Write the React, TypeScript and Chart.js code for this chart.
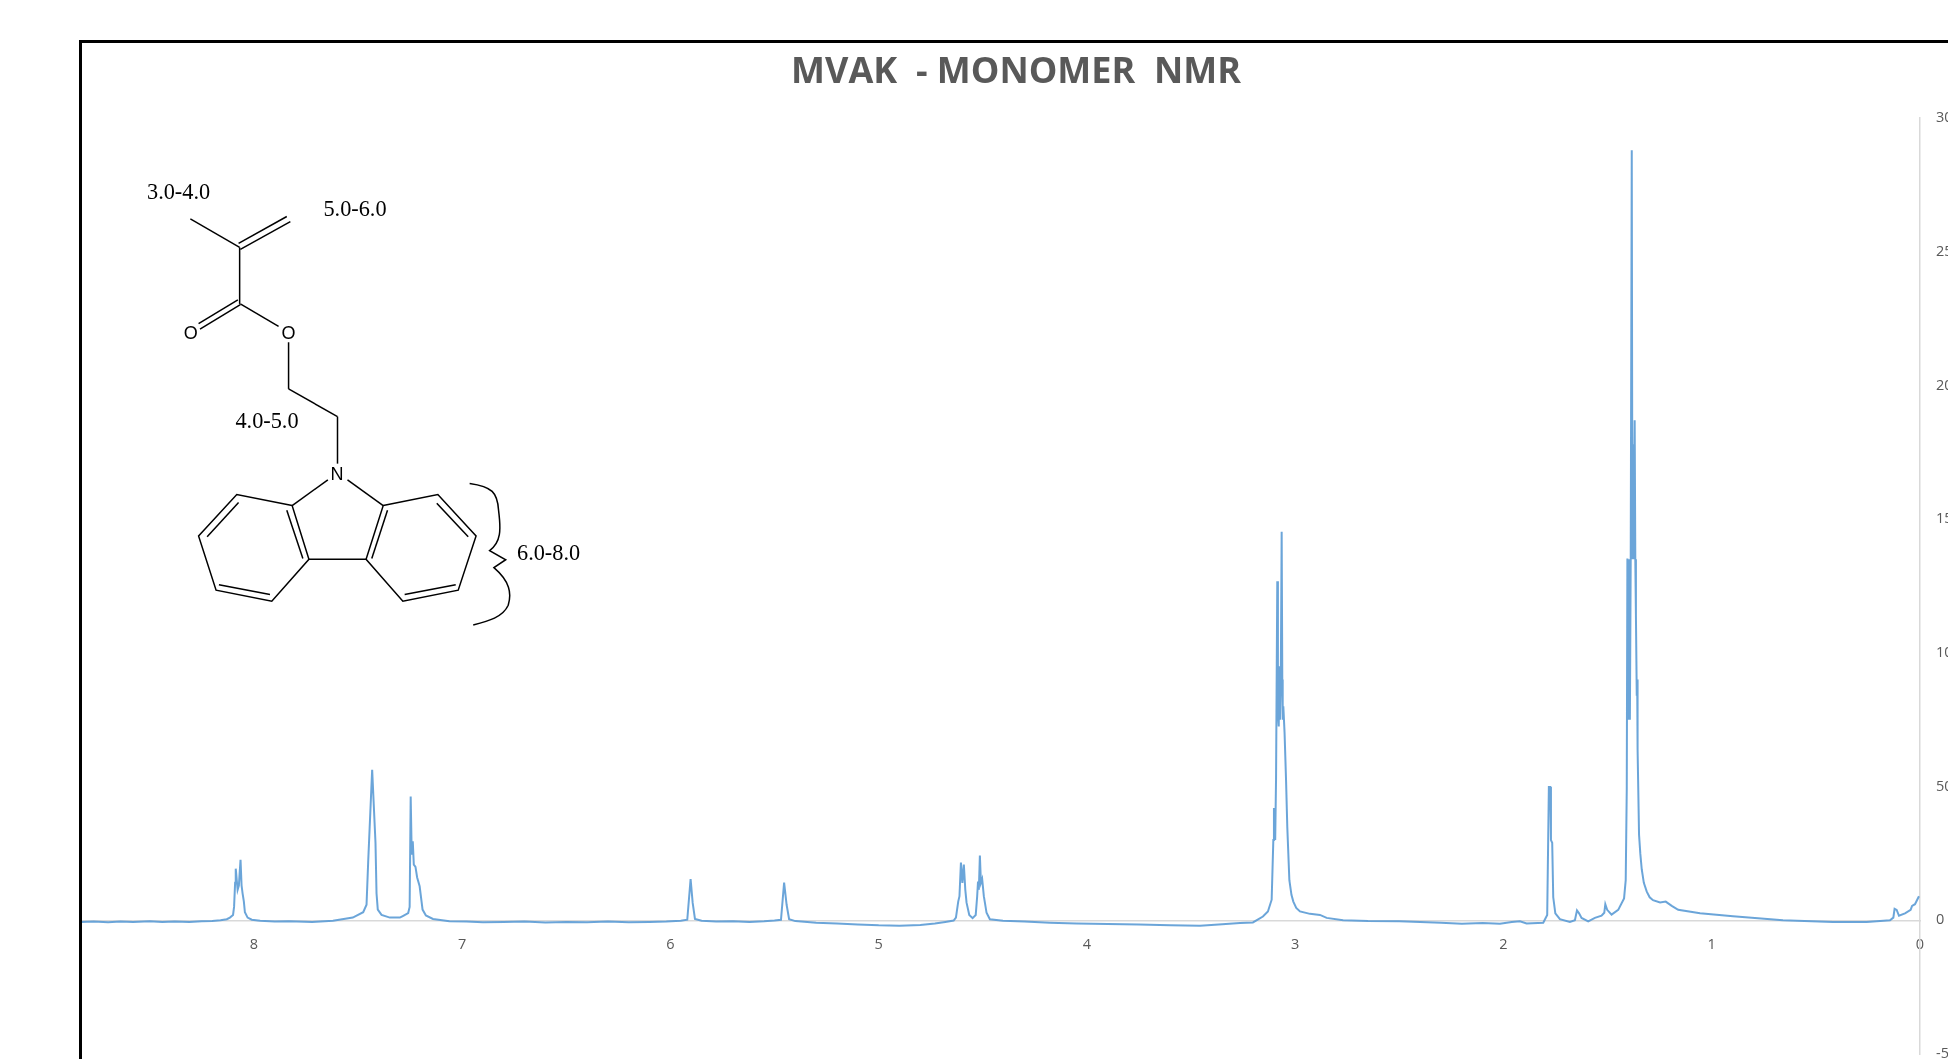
import React, { useEffect, useRef } from "react";
import { Chart, registerables } from "chart.js";

Chart.register(...registerables);

const chartTitle = "MVAK  - MONOMER  NMR";
const seriesName = "MVAK monomer";
const xTickStep = 1;
const yTickStep = 50;

const aromaticPpm = [8.83, 8.77, 8.7, 8.64, 8.58, 8.5, 8.44, 8.38, 8.31, 8.25, 8.2, 8.16, 8.13, 8.115, 8.1, 8.095, 8.09, 8.087, 8.078, 8.072, 8.064, 8.059, 8.054, 8.048, 8.043, 8.03, 8.01, 7.97, 7.9, 7.83, 7.72, 7.62, 7.525, 7.475, 7.459, 7.451, 7.432, 7.416, 7.411, 7.405, 7.387, 7.347, 7.299, 7.285, 7.259, 7.252, 7.247, 7.242, 7.237, 7.232, 7.224, 7.216, 7.204, 7.19, 7.174, 7.14, 7.061, 6.98, 6.9];
const aromaticIntensity = [-0.6, -0.5, -0.7, -0.5, -0.6, -0.4, -0.6, -0.5, -0.6, -0.4, -0.3, 0, 0.4, 1, 2, 5, 14, 19.3, 11.4, 13, 22.6, 13, 10, 7, 3, 1, 0.2, -0.2, -0.5, -0.4, -0.6, -0.2, 1, 3, 5.8, 22, 56.3, 29, 10, 4, 2, 1, 1, 1.6, 2.7, 5, 46.3, 24.5, 29.5, 20.8, 20, 16, 12.7, 4, 1.8, 0.5, -0.4, -0.5, -0.7];

const vinylPpm = [6.8, 6.7, 6.6, 6.5, 6.4, 6.3, 6.2, 6.1, 6.02, 5.95, 5.919, 5.903, 5.893, 5.882, 5.85, 5.78, 5.7, 5.62, 5.55, 5.5, 5.469, 5.454, 5.442, 5.43, 5.4, 5.3, 5.2, 5.1, 5.0, 4.9, 4.8, 4.73, 4.68];
const vinylIntensity = [-0.6, -0.5, -0.8, -0.6, -0.7, -0.5, -0.7, -0.6, -0.5, -0.2, 0.2, 15.4, 6.5, 0.5, -0.2, -0.5, -0.4, -0.6, -0.4, -0.1, 0.2, 14.1, 5.8, 0.4, -0.3, -0.9, -1.2, -1.6, -1.9, -2, -1.8, -1.2, -0.6];

const ethylPpm = [4.64, 4.629, 4.618, 4.612, 4.605, 4.598, 4.591, 4.584, 4.578, 4.565, 4.549, 4.534, 4.527, 4.523, 4.519, 4.514, 4.509, 4.503, 4.495, 4.482, 4.466, 4.403, 4.3, 4.178, 4.05, 3.9, 3.75, 3.6, 3.457, 3.35, 3.265, 3.203];
const ethylIntensity = [-0.1, 1, 7, 9, 21.6, 14, 20.8, 11.4, 6.6, 2, 0.8, 2, 9, 14.5, 11.4, 24.2, 14, 15.4, 9, 2.8, 0.4, -0.2, -0.5, -0.9, -1.2, -1.4, -1.6, -1.9, -2, -1.5, -1, -0.8];

const methylPpm = [3.155, 3.131, 3.113, 3.105, 3.102, 3.099, 3.096, 3.092, 3.086, 3.083, 3.079, 3.076, 3.073, 3.069, 3.065, 3.062, 3.06, 3.057, 3.051, 3.044, 3.038, 3.028, 3.018, 3.009, 2.995, 2.977, 2.929, 2.881, 2.849, 2.77, 2.65, 2.5, 2.4, 2.3, 2.2, 2.1, 2.017, 1.96, 1.921, 1.889, 1.809];
const methylIntensity = [1.4, 3.3, 7.7, 30, 42, 32, 30, 52.6, 126.8, 78, 72.5, 95, 75, 92, 145.3, 90, 75, 80, 70, 52.6, 35, 15, 9.5, 7, 4.6, 3.3, 2.4, 2, 0.9, 0, -0.3, -0.4, -0.6, -0.9, -1.3, -1, -1.3, -0.6, -0.4, -1.2, -0.9];

const aliphaticPpm = [1.79, 1.782, 1.775, 1.772, 1.766, 1.761, 1.751, 1.729, 1.681, 1.657, 1.647, 1.637, 1.625, 1.593, 1.561, 1.529, 1.516, 1.511, 1.502, 1.481, 1.449, 1.421, 1.413, 1.408, 1.405, 1.4, 1.396, 1.393, 1.389, 1.384, 1.381, 1.378, 1.375, 1.37, 1.367, 1.364, 1.36, 1.358, 1.356, 1.349, 1.343, 1.336, 1.326, 1.312, 1.298, 1.282, 1.248, 1.221, 1.192, 1.161, 1.056, 0.898, 0.658, 0.418, 0.256, 0.144, 0.128, 0.122, 0.112, 0.101, 0.072, 0.045, 0.038, 0.024, 0.005];
const aliphaticIntensity = [2, 49.8, 49.8, 30, 29, 8.6, 2.6, 0.4, -0.6, 0, 3.7, 2.6, 0.9, -0.4, 0.9, 1.7, 2.8, 6, 3.9, 2.1, 3.9, 8.2, 15, 49, 135.3, 75, 135, 75, 135, 287.9, 135, 178, 135, 187, 135, 114, 84, 90, 64, 32, 25, 19, 14, 10.7, 8.6, 7.5, 6.7, 7, 5.4, 3.9, 2.6, 1.5, 0, -0.6, -0.6, 0, 1, 4.3, 3.9, 1.7, 2.6, 3.9, 5.4, 6, 9];

const ppmValues = [...aromaticPpm, ...vinylPpm, ...ethylPpm, ...methylPpm, ...aliphaticPpm];
const intensityValues = [...aromaticIntensity, ...vinylIntensity, ...ethylIntensity, ...methylIntensity, ...aliphaticIntensity];

const bondLines = [
  [365, 503, 503, 575], [500, 565, 635, 497], [505, 580, 645, 510], [503, 575, 503, 718],
  [388, 768, 498, 708], [392, 782, 505, 720], [505, 718, 612, 775], [640, 815, 640, 933],
  [640, 933, 777, 1003], [777, 1003, 777, 1122], [750, 1163, 650, 1228], [805, 1163, 905, 1228],
  [500, 1220, 412, 1307], [445, 1428, 588, 1453], [635, 1240, 680, 1362], [697, 1364, 857, 1364],
  [1055, 1222, 1143, 1307], [965, 1453, 1108, 1428], [917, 1240, 873, 1362],
];
const ringPaths = [
  "650,1228 495,1200 388,1305 437,1442 593,1470 697,1364",
  "905,1228 1058,1200 1165,1305 1115,1442 960,1470 857,1364",
];
const bracePath = "M1147,1172 C1210,1180 1225,1195 1228,1240 C1235,1290 1235,1320 1203,1342 L1248,1365 L1215,1385 C1260,1420 1265,1450 1255,1480 C1240,1510 1200,1520 1157,1530";
const shiftLabels = [
  { text: "3.0-4.0", x: 118.6, y: 171.8 },
  { text: "5.0-6.0", x: 295, y: 188.8 },
  { text: "4.0-5.0", x: 207, y: 400 },
  { text: "6.0-8.0", x: 488.6, y: 532.8 },
];
const atomLabels = [
  { text: "O", x: 130.7, y: 313 },
  { text: "O", x: 228.6, y: 313 },
  { text: "N", x: 277.1, y: 454 },
];

export default function App() {
  const ref = useRef<HTMLCanvasElement>(null);
  useEffect(() => {
    if (!ref.current) return;
    const chart = new Chart(ref.current, {
      type: "line",
      data: {
        datasets: [{
          label: seriesName,
          data: ppmValues.map((x, i) => ({ x, y: intensityValues[i] })),
          borderColor: "rgba(91,155,213,0.9)",
          borderWidth: 2,
          pointRadius: 0,
          tension: 0,
        }],
      },
      options: {
        responsive: false,
        animation: false,
        layout: { padding: { left: 81, right: 0, top: 0, bottom: 46 } },
        plugins: {
          legend: { display: false },
          tooltip: { enabled: false },
          title: {
            display: true,
            text: chartTitle,
            color: "#595959",
            font: { family: "'Open Sans'", size: 36, weight: "bold" },
            padding: { top: 50.7, bottom: 24.1 },
          },
        },
        scales: {
          x: {
            type: "linear",
            reverse: true,
            min: 0,
            max: 8.83,
            position: { y: 0 },
            grid: { display: false, drawTicks: false },
            border: { display: true, color: "#D9D9D9", width: 1.5 },
            ticks: {
              stepSize: xTickStep,
              includeBounds: false,
              autoSkip: false,
              maxRotation: 0,
              padding: 16,
              color: "#595959",
              font: { family: "'Open Sans'", size: 14.5 },
            },
          },
          y: {
            type: "linear",
            position: "right",
            min: -50,
            max: 300,
            afterFit: (scale: any) => { scale.width = 31; },
            grid: { display: false, drawTicks: false },
            border: { display: true, color: "#D9D9D9", width: 1.5 },
            ticks: {
              stepSize: yTickStep,
              padding: 16,
              color: "#595959",
              font: { family: "'Open Sans'", size: 14.5 },
            },
          },
        },
      },
    });
    return () => chart.destroy();
  }, []);

  return (
    <div style={{ position: "fixed", left: 0, top: 0, width: 1948, height: 1059, overflow: "hidden", background: "#fff" }}>
      <canvas ref={ref} width={1951} height={1100} style={{ position: "absolute", left: 0, top: 0, filter: "blur(0.6px)" }} />
      <div style={{ position: "absolute", left: 78.5, top: 39.5, width: 3000, height: 3000, border: "3.5px solid #000", boxSizing: "border-box" }} />
      <svg width={600} height={640} style={{ position: "absolute", left: 60, top: 20 }}>
        <g transform={`scale(${1 / 2.8},${1 / 2.529})`} fill="none" stroke="#000">
          {bondLines.map((b, i) => (
            <line key={i} x1={b[0]} y1={b[1]} x2={b[2]} y2={b[3]} strokeWidth={1.5} vectorEffect="non-scaling-stroke" />
          ))}
          {ringPaths.map((p, i) => (
            <polygon key={i} points={p} strokeWidth={1.5} vectorEffect="non-scaling-stroke" />
          ))}
          <path d={bracePath} strokeWidth={1.5} vectorEffect="non-scaling-stroke" />
        </g>
        {shiftLabels.map((t) => (
          <text key={t.text} x={t.x} y={t.y} textAnchor="middle" dominantBaseline="central" fontFamily="'Liberation Serif'" fontSize={22.3} fill="#000">{t.text}</text>
        ))}
        {atomLabels.map((t, i) => (
          <text key={i} x={t.x} y={t.y} textAnchor="middle" dominantBaseline="central" fontFamily="'Liberation Sans'" fontSize={18} fill="#000">{t.text}</text>
        ))}
      </svg>
    </div>
  );
}
